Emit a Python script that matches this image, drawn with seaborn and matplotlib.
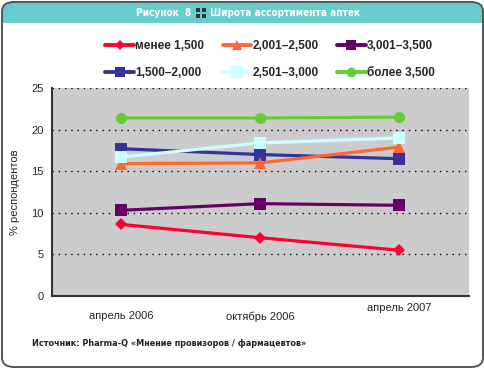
import pandas as pd
import matplotlib.pyplot as plt
import seaborn as sns
from matplotlib.patches import FancyBboxPatch, Rectangle
from matplotlib.lines import Line2D

# Data
periods = ['апрель 2006', 'октябрь 2006', 'апрель 2007']
groups = ['менее 1,500', '1,500–2,000', '2,001–2,500', '2,501–3,000', '3,001–3,500', 'более 3,500']
less_1500 = [8.6, 7.0, 5.5]
from_1500 = [17.7, 17.0, 16.5]
from_2001 = [15.9, 16.0, 17.9]
from_2501 = [16.7, 18.4, 19.0]
from_3001 = [10.3, 11.1, 10.9]
more_3500 = [21.4, 21.4, 21.5]
yticks = [0, 5, 10, 15, 20, 25]

colors = ['#FF0033', '#333399', '#FF6633', '#CCFFFF', '#660066', '#66CC33']
markers = ['D', 's', '^', 's', 's', 'o']
msizes = [6, 8, 8, 9, 8, 8]

series = [less_1500, from_1500, from_2001, from_2501, from_3001, more_3500]
df = pd.DataFrame({
    'period': periods * len(groups),
    'group': [g for g in groups for _ in periods],
    'value': [v for s in series for v in s],
})

sns.set_style('white')
plt.rcParams['font.family'] = ['Liberation Sans', 'DejaVu Sans']

fig = plt.figure(figsize=(4.85, 3.7), dpi=100)
W, H = 485, 370

def fx(x):
    return x / W

def fy(y):
    return 1 - y / H

# frame and title bar
outer = FancyBboxPatch((fx(2), fy(367)), fx(481), 365 / H, boxstyle='round,pad=0,rounding_size=0.025',
                       transform=fig.transFigure, facecolor='white', edgecolor='none', zorder=-3)
fig.patches.append(outer)
bar = FancyBboxPatch((fx(2), fy(40)), fx(481), 38 / H, boxstyle='round,pad=0,rounding_size=0.025',
                     transform=fig.transFigure, facecolor='#66CCCC', edgecolor='none', zorder=-2)
fig.patches.append(bar)
fig.patches.append(Rectangle((fx(2), fy(45)), fx(481), 22 / H, transform=fig.transFigure,
                             facecolor='white', edgecolor='none', zorder=-1))
border = FancyBboxPatch((fx(2), fy(367)), fx(481), 365 / H, boxstyle='round,pad=0,rounding_size=0.025',
                        transform=fig.transFigure, facecolor='none', edgecolor='#555555',
                        linewidth=1.4, zorder=10)
fig.patches.append(border)

cond = dict(family='DejaVu Sans', fontstretch='condensed', fontweight='bold')
fig.text(fx(191), fy(12.5), 'Рисунок  8', color='white', fontsize=7.2,
         ha='right', va='center', **cond)
fig.text(fx(210), fy(12.5), 'Широта ассортимента аптек', color='white', fontsize=7.2,
         ha='left', va='center', **cond)
# small 2x2 icon between the title parts
for ix, iy in [(196, 8), (201.5, 8), (196, 13.5), (201.5, 13.5)]:
    fig.patches.append(Rectangle((fx(ix), fy(iy + 4)), fx(4), 4 / H, transform=fig.transFigure,
                                 facecolor='#333333', edgecolor='none', zorder=1))

ax = fig.add_axes([fx(52), fy(296), fx(469 - 52), (296 - 88) / H])
ax.set_facecolor('#CCCCCC')

palette = dict(zip(groups, colors))
mk = dict(zip(groups, markers))
for g, ms in zip(groups, msizes):
    sub = df[df['group'] == g]
    sns.lineplot(data=sub, x='period', y='value', color=palette[g], marker=mk[g],
                 markersize=ms, markeredgewidth=0, linewidth=2.3, ax=ax, zorder=3)

ax.set_xlim(-0.5, 2.5)
ax.set_ylim(0, 25)
ax.set_yticks(yticks)
ax.set_xticks([0, 1, 2])
ax.set_xticklabels(periods)
ax.set_xticks([-0.5, 0.5, 1.5, 2.5], minor=True)
ax.tick_params(axis='x', which='major', length=0, pad=11, labelsize=8)
ax.tick_params(axis='x', which='minor', length=4, width=1.5, direction='out', color='#333333')
ax.tick_params(axis='y', length=4, width=1.5, direction='out', color='#333333', labelsize=8, pad=2)
ax.xaxis.get_major_ticks()[2].set_pad(5)
ax.set_xlabel('')
ax.set_ylabel('% респондентов', fontsize=8, labelpad=8)
for s in ['top', 'right']:
    ax.spines[s].set_visible(False)
for s in ['left', 'bottom']:
    ax.spines[s].set_color('#333333')
    ax.spines[s].set_linewidth(1.5)
ax.yaxis.grid(True, linestyle=(0, (1, 3.5)), color='black', linewidth=1)
ax.set_axisbelow(True)
if ax.get_legend():
    ax.get_legend().remove()

handles = [Line2D([], [], color=c, marker=m, markersize=ms - 1, markeredgewidth=0, linewidth=2.8)
           for c, m, ms in zip(colors, markers, msizes)]
fig.legend(handles, groups, ncol=3, loc='center', bbox_to_anchor=(fx(270), fy(59.5)),
           frameon=False, handlelength=2.4, handletextpad=0.1, columnspacing=1.6,
           labelspacing=1.25, prop={'size': 8.5, 'weight': 'bold'})

fig.text(fx(32), fy(344), 'Источник: Pharma-Q «Мнение провизоров / фармацевтов»',
         fontsize=6.5, color='#222222', ha='left', va='center', **cond)

fig.savefig('out.png', dpi=100)
